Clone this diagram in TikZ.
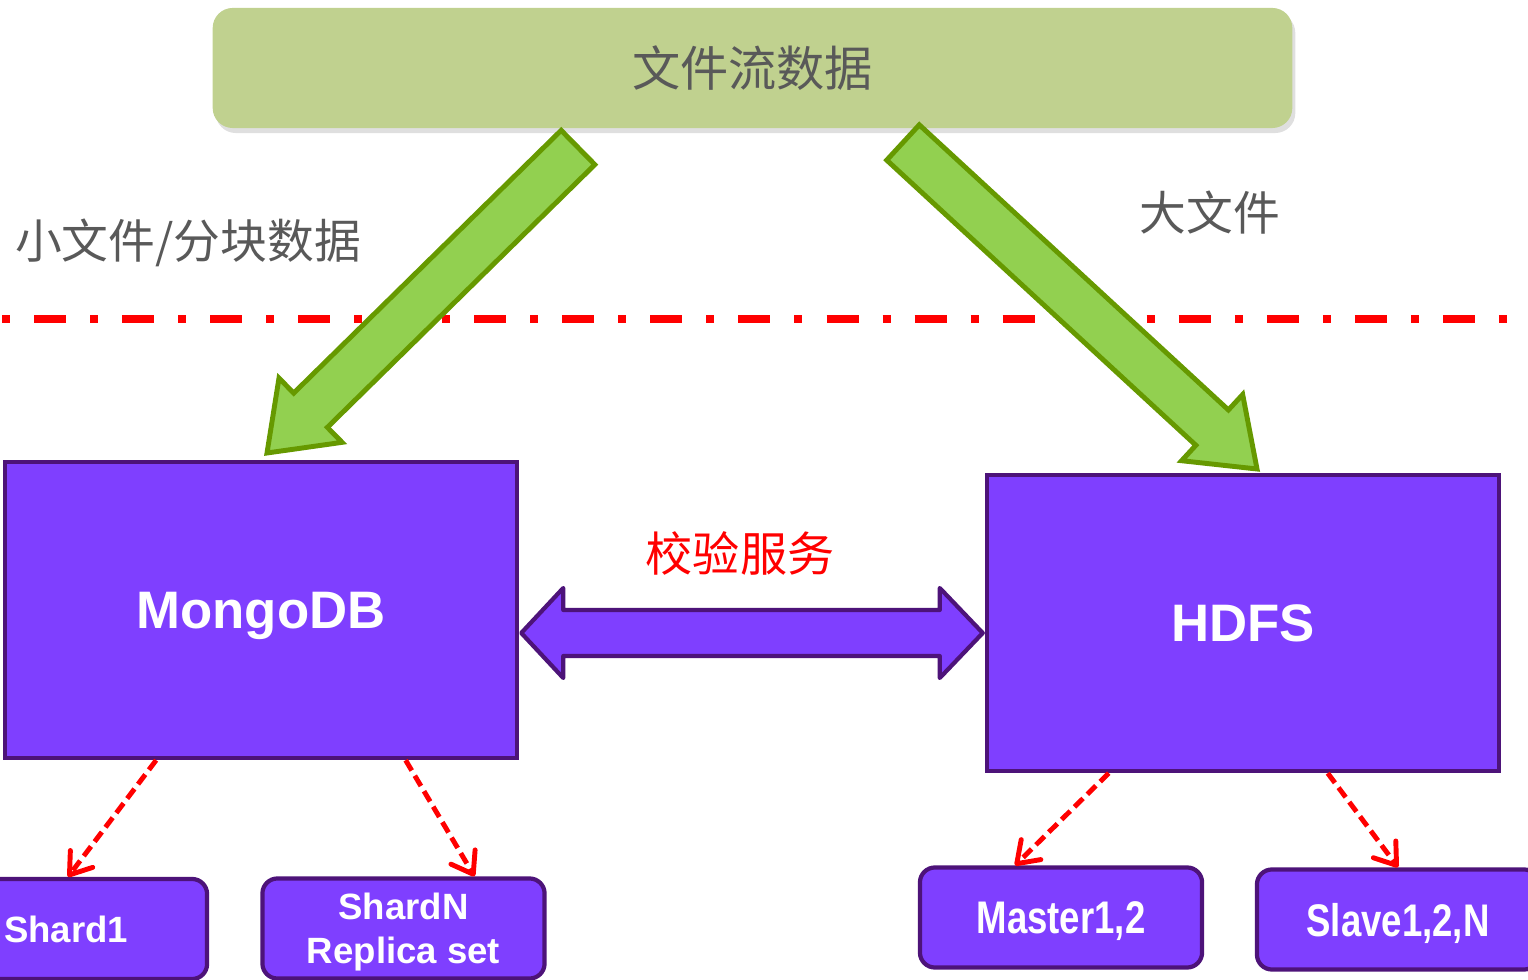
\documentclass[tikz,border=0pt]{standalone}
\usepackage{fontspec}
\setmainfont{Liberation Sans}
\newfontfamily\cjk{Noto Sans CJK SC}
\newfontfamily\narrowsans{Liberation Sans}[FakeStretch=0.8]
\usetikzlibrary{arrows.meta,calc,shadows}
\definecolor{srcgreen}{RGB}{192,209,143}
\definecolor{flowgreen}{RGB}{146,208,80}
\definecolor{flowedge}{RGB}{102,153,0}
\definecolor{boxviolet}{RGB}{127,63,255}
\definecolor{boxedge}{RGB}{77,19,121}
\definecolor{labelgray}{RGB}{89,89,89}
\tikzset{
  store/.style={rectangle, draw=boxedge, line width=1.2pt, fill=boxviolet, inner sep=0pt, text=white, text depth=0pt, font=\bfseries\fontsize{15pt}{18pt}\selectfont, minimum width=5.12cm, minimum height=2.96cm},
  part/.style={rectangle, rounded corners=0.15cm, draw=boxedge, line width=1.2pt, fill=boxviolet, inner sep=0pt, text=white, text depth=0pt, align=center, font=\bfseries\fontsize{10.4pt}{12.5pt}\selectfont, minimum width=2.82cm, minimum height=1cm},
  flow/.style={fill=flowgreen, draw=flowedge, line width=1.4pt},
  sub/.style={-{Straight Barb[length=2mm, width=2.8mm, round]}, red, line width=1.4pt, dash pattern=on 0.12cm off 0.06cm}
}

\begin{document}
\begin{tikzpicture}[x=0.01cm, y=-0.01cm,
    cjklbl/.style={text=labelgray, font=\cjk\fontsize{13.3pt}{16pt}\selectfont, inner sep=0pt},
    cut/.style={red, line width=0.08cm, dash pattern=on 0.08cm off 0.24cm on 0.32cm off 0.24cm},
    twin/.style={fill=boxviolet, draw=boxedge, line width=1.2pt, line join=round}
  ]
    \useasboundingbox (0,0) rectangle (1528,980);
    \clip (0,0) rectangle (1528,980);

    \node[rectangle, rounded corners=0.2cm, fill=srcgreen, minimum width=10.79cm, minimum height=1.2cm, inner sep=0pt,
      drop shadow={shadow xshift=0.03cm, shadow yshift=-0.05cm, opacity=0.25},
      text=labelgray, font=\cjk\fontsize{13.7pt}{16pt}\selectfont] (src) at (752.5,68) {文件流数据};

    \draw[cut] (2,319) -- (1528,319);

    % big flow arrows
    \coordinate (ls) at (578,147.5);
    \coordinate (lt) at (267,453);
    \coordinate (rs) at (903,142.5);
    \coordinate (rt) at (1257,469);
    \coordinate (lh) at ($(lt)!0.61cm!(ls)$);
    \coordinate (rh) at ($(rt)!0.61cm!(rs)$);
    \draw[flow] ($(ls)!0.24cm!90:(lt)$) -- ($(lh)!0.24cm!-90:(ls)$) -- ($(lh)!0.45cm!-90:(ls)$) -- (lt)
      -- ($(lh)!0.45cm!90:(ls)$) -- ($(lh)!0.24cm!90:(ls)$) -- ($(ls)!0.24cm!-90:(lt)$) -- cycle;
    \draw[flow] ($(rs)!0.24cm!90:(rt)$) -- ($(rh)!0.24cm!-90:(rs)$) -- ($(rh)!0.45cm!-90:(rs)$) -- (rt)
      -- ($(rh)!0.45cm!90:(rs)$) -- ($(rh)!0.24cm!90:(rs)$) -- ($(rs)!0.24cm!-90:(rt)$) -- cycle;

    \node[cjklbl] (small) at (188,243) {小文件/分块数据};
    \node[cjklbl] (large) at (1210,213) {大文件};

    \node[store] (mongo) at (261,610) {MongoDB};
    \node[store] (hdfs) at (1243,623) {HDFS};

    \coordinate (vl) at ($(mongo.east)+(2,23)$);
    \coordinate (vr) at ($(hdfs.west)+(-2,10)$);
    \draw[twin] (vl) -- ($(vl)+(42,-45)$) -- ($(vl)+(42,-23)$) -- ($(vr)+(-43,-23)$) -- ($(vr)+(-43,-45)$) -- (vr)
      -- ($(vr)+(-43,45)$) -- ($(vr)+(-43,23)$) -- ($(vl)+(42,23)$) -- ($(vl)+(42,45)$) -- cycle;
    \node[text=red, font=\cjk\fontsize{13.4pt}{16pt}\selectfont, inner sep=0pt] (check) at (740,553) {校验服务};

    \node[part] (shard1) at (66,929) {Shard1};
    \node[part] (shardn) at (403.5,928.5) {ShardN\\Replica set};
    \node[part, font=\narrowsans\bfseries\fontsize{13pt}{15pt}\selectfont] (master) at (1061,917.5) {Master1,2};
    \node[part, font=\narrowsans\bfseries\fontsize{13pt}{15pt}\selectfont] (slave) at (1398,919.5) {Slave1,2,N};

    \draw[sub] ($(mongo.south west)!0.297!(mongo.south east)$) -- ($(shard1.north)+(2,0)$);
    \draw[sub] ($(mongo.south west)!0.78!(mongo.south east)$) -- ($(shardn.north)+(71,0)$);
    \draw[sub] ($(hdfs.south west)!0.24!(hdfs.south east)$) -- ($(master.north)+(-46,0)$);
    \draw[sub] ($(hdfs.south west)!0.664!(hdfs.south east)$) -- (slave.north);
  \end{tikzpicture}
\end{document}
